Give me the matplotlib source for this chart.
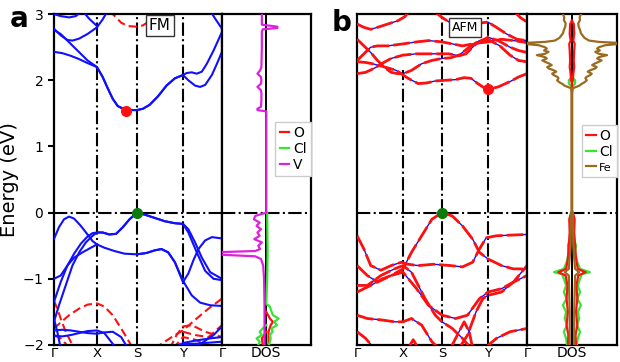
import numpy as np
import matplotlib.pyplot as plt
from matplotlib.lines import Line2D

# ---- k-path positions ----
kticks_a = [0.0, 0.256, 0.494, 0.768, 1.0]
kticks_b = [0.0, 0.27, 0.50, 0.77, 1.0]
klabels = ['Γ', 'X', 'S', 'Y', 'Γ']
eticks = [-2, -1, 0, 1, 2, 3]
elabels = ['$-2$', '$-1$', '$0$', '$1$', '$2$', '$3$']

# ---- panel a (FM): spin-up bands (blue) ----
a_up = [
    [(0, 2.43), (0.05, 2.41), (0.1, 2.37), (0.15, 2.32), (0.2, 2.26), (0.256, 2.2), (0.29, 2.05),
     (0.32, 1.88), (0.35, 1.72), (0.38, 1.61), (0.42, 1.56), (0.46, 1.55), (0.494, 1.55), (0.53, 1.57),
     (0.57, 1.63), (0.62, 1.76), (0.67, 1.92), (0.72, 2.03), (0.768, 2.08), (0.8, 2.0), (0.84, 1.92),
     (0.87, 1.9), (0.9, 1.93), (0.94, 2.08), (0.97, 2.25), (1.0, 2.43)],
    [(0, 2.76), (0.04, 2.7), (0.08, 2.6), (0.12, 2.5), (0.16, 2.4), (0.2, 2.3), (0.256, 2.2), (0.29, 2.05),
     (0.32, 1.88), (0.35, 1.72), (0.38, 1.61), (0.42, 1.56), (0.46, 1.55), (0.494, 1.55), (0.53, 1.57),
     (0.57, 1.63), (0.62, 1.76), (0.67, 1.92), (0.72, 2.03), (0.768, 2.08), (0.79, 2.11), (0.82, 2.12),
     (0.85, 2.1), (0.88, 2.13), (0.91, 2.25), (0.95, 2.45), (1.0, 2.73)],
    [(0, 2.78), (0.04, 2.68), (0.08, 2.61), (0.11, 2.6), (0.15, 2.63), (0.2, 2.7), (0.256, 2.8),
     (0.29, 2.92), (0.32, 3.05)],
    [(0.17, 3.05), (0.21, 2.93), (0.256, 2.82)],
    [(0, 3.0), (0.04, 2.97), (0.09, 2.95), (0.13, 2.97), (0.17, 3.05)],
    [(0.93, 3.05), (0.96, 2.93), (1.0, 2.78)],
    [(0, -0.4), (0.03, -0.22), (0.06, -0.1), (0.09, -0.06), (0.12, -0.09), (0.16, -0.2), (0.2, -0.33),
     (0.23, -0.43), (0.256, -0.48), (0.3, -0.53), (0.36, -0.58), (0.42, -0.62), (0.494, -0.63),
     (0.55, -0.61), (0.6, -0.57), (0.64, -0.55), (0.68, -0.6), (0.72, -0.75), (0.768, -1.03),
     (0.82, -1.25), (0.87, -1.36), (0.93, -1.4), (1.0, -1.41)],
    [(0, -1.0), (0.04, -0.95), (0.08, -0.8), (0.12, -0.62), (0.16, -0.47), (0.2, -0.36), (0.23, -0.31),
     (0.256, -0.3), (0.29, -0.3), (0.33, -0.33), (0.37, -0.32), (0.41, -0.22), (0.45, -0.1), (0.494, 0.0),
     (0.54, -0.03), (0.6, -0.08), (0.66, -0.13), (0.72, -0.16), (0.768, -0.17), (0.8, -0.25),
     (0.84, -0.45), (0.88, -0.68), (0.93, -0.9), (1.0, -1.0)],
    [(0, -1.65), (0.03, -1.4), (0.07, -1.1), (0.11, -0.8), (0.15, -0.6), (0.19, -0.45), (0.23, -0.35),
     (0.256, -0.3), (0.29, -0.3), (0.33, -0.33), (0.37, -0.32), (0.41, -0.22), (0.45, -0.1),
     (0.494, 0.0), (0.54, -0.03), (0.6, -0.08), (0.66, -0.13), (0.72, -0.16), (0.768, -0.17),
     (0.8, -0.3), (0.85, -0.6), (0.9, -0.88), (0.95, -1.0), (1.0, -1.02)],
    [(0.494, -0.63), (0.55, -0.61), (0.6, -0.57), (0.64, -0.55), (0.68, -0.6), (0.72, -0.75),
     (0.768, -1.05), (0.8, -0.92), (0.83, -0.72), (0.86, -0.55), (0.9, -0.42), (0.94, -0.37), (1.0, -0.39)],
    [(0, -1.35), (0.04, -1.05), (0.08, -0.8), (0.12, -0.68), (0.17, -0.6), (0.22, -0.53), (0.256, -0.48)],
    [(0, -1.78), (0.05, -1.77), (0.1, -1.78), (0.15, -1.8), (0.2, -1.82), (0.256, -1.83), (0.3, -1.81),
     (0.35, -1.8), (0.4, -1.88), (0.44, -2.05)],
    [(0, -1.86), (0.05, -1.87), (0.1, -1.85), (0.15, -1.82), (0.2, -1.79), (0.256, -1.78), (0.3, -1.82),
     (0.34, -1.95), (0.37, -2.05)],
    [(0, -1.6), (0.02, -1.8), (0.04, -2.05)],
    [(0.72, -2.05), (0.768, -1.97), (0.85, -1.93), (0.93, -1.9), (1.0, -1.88)],
    [(0.8, -2.05), (0.88, -1.97), (0.95, -1.85), (1.0, -1.72)],
    [(0.75, -1.99), (0.85, -1.98), (1.0, -1.95)],
]

# ---- panel a (FM): spin-down bands (red dashed) ----
a_dn = [
    [(0.33, 3.05), (0.37, 2.95), (0.4, 2.87), (0.44, 2.82), (0.49, 2.81), (0.53, 2.83), (0.57, 2.9), (0.6, 3.05)],
    [(0, -1.75), (0.04, -1.66), (0.09, -1.55), (0.15, -1.45), (0.2, -1.39), (0.256, -1.37), (0.3, -1.42),
     (0.35, -1.55), (0.4, -1.75), (0.44, -1.92), (0.47, -2.05)],
    [(0, -1.33), (0.02, -1.45), (0.04, -1.6), (0.07, -1.8), (0.1, -1.95), (0.12, -2.05)],
    [(0, -1.85), (0.04, -1.9), (0.07, -1.98), (0.09, -2.05)],
    [(0.6, -2.05), (0.66, -1.95), (0.72, -1.85), (0.768, -1.78), (0.84, -1.62), (0.92, -1.45), (1.0, -1.3)],
    [(0.69, -2.05), (0.73, -1.85), (0.768, -1.72), (0.82, -1.7), (0.9, -1.8), (1.0, -1.88)],
    [(0.768, -1.8), (0.84, -1.85), (0.92, -1.88), (1.0, -1.7)],
    [(0.71, -2.05), (0.768, -1.88), (0.84, -1.92), (0.95, -2.05)],
]

# ---- panel b (AFM): bands (both spins overlap) ----
b_bands = [
    [(0, 2.28), (0.05, 2.27), (0.09, 2.25), (0.15, 2.21), (0.23, 2.15), (0.3, 2.03), (0.36, 1.95),
     (0.41, 1.96), (0.46, 1.99), (0.52, 2.0), (0.58, 2.01), (0.63, 2.04), (0.67, 2.03), (0.71, 1.95),
     (0.74, 1.9), (0.77, 1.86), (0.83, 1.9), (0.9, 1.98), (0.95, 2.05), (1.0, 2.1)],
    [(0, 2.1), (0.05, 2.12), (0.1, 2.18), (0.15, 2.26), (0.2, 2.33), (0.27, 2.38), (0.35, 2.4), (0.45, 2.4),
     (0.54, 2.4), (0.6, 2.37), (0.64, 2.4), (0.7, 2.55), (0.77, 2.65), (0.83, 2.6), (0.9, 2.5),
     (0.95, 2.45), (1.0, 2.42)],
    [(0, 2.62), (0.04, 2.52), (0.08, 2.42), (0.12, 2.3), (0.16, 2.2), (0.2, 2.12), (0.24, 2.1), (0.27, 2.1),
     (0.32, 2.15), (0.38, 2.25), (0.44, 2.3), (0.5, 2.33), (0.55, 2.34), (0.6, 2.38), (0.66, 2.5),
     (0.72, 2.6), (0.77, 2.62), (0.84, 2.52), (0.9, 2.38), (0.95, 2.3), (1.0, 2.28)],
    [(0, 2.3), (0.04, 2.4), (0.08, 2.5), (0.12, 2.52), (0.18, 2.52), (0.27, 2.55), (0.35, 2.58), (0.42, 2.6),
     (0.5, 2.58), (0.56, 2.55), (0.62, 2.52), (0.7, 2.56), (0.77, 2.58), (0.85, 2.62), (0.92, 2.6), (1.0, 2.57)],
    [(0, 2.85), (0.04, 2.8), (0.08, 2.77), (0.12, 2.8), (0.18, 2.85), (0.24, 2.9), (0.28, 2.96), (0.31, 3.05)],
    [(0.45, 3.05), (0.5, 2.95), (0.56, 2.85), (0.62, 2.82), (0.68, 2.84), (0.74, 2.87), (0.77, 2.88),
     (0.82, 2.8), (0.88, 2.7), (0.94, 2.62), (1.0, 2.6)],
    [(0.92, 3.05), (0.96, 2.95), (1.0, 2.88)],
    [(0, -0.35), (0.04, -0.55), (0.08, -0.8), (0.14, -0.87), (0.2, -0.8), (0.26, -0.75), (0.3, -0.78),
     (0.36, -0.8), (0.45, -0.78), (0.55, -0.8), (0.62, -0.82), (0.68, -0.75), (0.72, -0.55), (0.76, -0.38),
     (0.82, -0.35), (0.9, -0.34), (1.0, -0.33)],
    [(0, -1.2), (0.08, -1.1), (0.15, -1.0), (0.2, -0.95), (0.27, -0.85), (0.32, -0.6), (0.38, -0.35),
     (0.44, -0.1), (0.5, 0.0), (0.56, -0.05), (0.62, -0.2), (0.68, -0.4), (0.72, -0.6), (0.77, -0.7),
     (0.85, -0.8), (0.92, -0.85), (1.0, -0.85)],
    [(0, -0.8), (0.06, -0.95), (0.12, -1.05), (0.2, -0.95), (0.27, -0.9), (0.35, -1.15), (0.42, -1.4),
     (0.5, -1.55), (0.58, -1.6), (0.65, -1.55), (0.72, -1.3), (0.77, -1.2), (0.85, -1.15), (0.92, -1.05),
     (1.0, -0.95)],
    [(0, -1.1), (0.06, -1.1), (0.14, -0.95), (0.22, -0.85), (0.27, -0.8), (0.32, -0.9), (0.4, -1.3),
     (0.46, -1.55), (0.5, -1.65), (0.56, -1.75), (0.62, -1.9), (0.67, -2.05)],
    [(0, -1.55), (0.06, -1.6), (0.14, -1.62), (0.22, -1.65), (0.27, -1.65), (0.32, -1.6), (0.38, -1.7),
     (0.44, -1.95), (0.48, -2.05)],
    [(0, -1.8), (0.05, -1.9), (0.1, -2.05)],
    [(0.6, -2.05), (0.65, -1.85), (0.7, -1.5), (0.74, -1.3), (0.77, -1.25), (0.85, -1.2), (0.92, -1.05),
     (1.0, -0.8)],
    [(0.75, -2.05), (0.82, -1.9), (0.9, -1.8), (1.0, -1.75)],
    [(0.3, -2.05), (0.33, -1.92), (0.36, -2.05)],
    [(0.55, -2.05), (0.6, -1.8), (0.63, -1.65), (0.66, -1.8), (0.68, -2.05)],
]

# ---- DOS, panel a (negative = spin up, drawn to the left) ----
dos_a_V = [(3.0, -0.1), (2.9, -0.1), (2.84, -0.1), (2.81, 0.25), (2.79, 0.25), (2.77, -0.08), (2.74, -0.1),
           (2.5, -0.1), (2.2, -0.11), (2.15, -0.14), (2.1, -0.2), (2.05, -0.12), (2.0, -0.11), (1.95, -0.12),
           (1.9, -0.2), (1.85, -0.12), (1.8, -0.11), (1.7, -0.11), (1.6, -0.12), (1.57, -0.2), (1.55, -0.2),
           (1.53, 0.0), (0.02, 0.0), (0.0, 0.0), (-0.02, -0.1), (-0.05, -0.25), (-0.1, -0.28), (-0.15, -0.15),
           (-0.2, -0.22), (-0.25, -0.12), (-0.3, -0.2), (-0.35, -0.15), (-0.4, -0.27), (-0.45, -0.1),
           (-0.5, -0.18), (-0.55, -0.14), (-0.58, -0.25), (-0.6, -1.2), (-0.63, -1.2), (-0.66, -0.25),
           (-0.7, -0.12), (-0.8, -0.07), (-1.0, -0.05), (-1.4, -0.04), (-1.6, -0.04), (-2.0, -0.04)]
dos_a_Cl_dn = [(0.0, 0.02), (-0.6, 0.03), (-1.0, 0.02), (-1.38, 0.0), (-1.42, 0.08), (-1.5, 0.12),
               (-1.55, 0.15), (-1.6, 0.28), (-1.65, 0.18), (-1.7, 0.24), (-1.75, 0.12), (-1.8, 0.14),
               (-1.85, 0.08), (-1.9, 0.1), (-2.0, 0.06)]
dos_a_Cl_up = [(-1.7, 0.0), (-1.75, -0.08), (-1.8, -0.15), (-1.85, -0.1), (-1.9, -0.22), (-1.95, -0.15),
               (-2.0, -0.18)]
dos_a_O_dn = [(-1.5, 0.0), (-1.6, 0.08), (-1.65, 0.15), (-1.7, 0.1), (-1.8, 0.05), (-2.0, 0.05)]
dos_a_O_up = [(-1.8, 0.0), (-1.9, -0.1), (-2.0, -0.08)]

# ---- DOS, panel b (symmetric spins) ----
dos_b_Fe = [(3.0, 0.2), (2.95, 0.17), (2.91, 0.18), (2.86, 0.14), (2.81, 0.15), (2.76, 0.18), (2.71, 0.2),
            (2.64, 0.28), (2.6, 0.38), (2.58, 0.6), (2.56, 1.2), (2.53, 0.74), (2.5, 0.6), (2.48, 0.56),
            (2.45, 0.62), (2.43, 0.52), (2.4, 0.6), (2.38, 0.78), (2.35, 0.6), (2.33, 0.56), (2.3, 0.66),
            (2.28, 0.6), (2.25, 0.5), (2.23, 0.45), (2.2, 0.55), (2.18, 0.52), (2.15, 0.4), (2.13, 0.35),
            (2.1, 0.44), (2.08, 0.41), (2.05, 0.32), (2.03, 0.3), (2.0, 0.33), (1.97, 0.28), (1.94, 0.2),
            (1.92, 0.17), (1.88, 0.02), (1.8, 0.0), (0.02, 0.0), (0.0, 0.02), (-0.5, 0.03), (-0.85, 0.07),
            (-0.9, 0.16), (-0.95, 0.07), (-1.5, 0.05), (-2.0, 0.05)]
dos_b_O = [(2.9, 0.0), (2.85, 0.04), (2.7, 0.05), (2.6, 0.03), (2.55, 0.06), (2.45, 0.05), (2.3, 0.04),
           (2.2, 0.05), (2.1, 0.03), (2.0, 0.02), (1.95, 0.0), (0.02, 0.0), (0.0, 0.02), (-0.1, 0.06),
           (-0.3, 0.05), (-0.5, 0.07), (-0.7, 0.09), (-0.85, 0.13), (-0.9, 0.3), (-0.95, 0.14), (-1.1, 0.1),
           (-1.3, 0.12), (-1.5, 0.09), (-1.7, 0.12), (-1.85, 0.08), (-2.0, 0.09)]
dos_b_Cl = [(2.05, 0.0), (2.0, 0.07), (1.95, 0.07), (1.9, 0.0), (0.0, 0.0), (-0.1, 0.03), (-0.4, 0.05),
            (-0.5, 0.09), (-0.6, 0.07), (-0.75, 0.12), (-0.85, 0.18), (-0.9, 0.4), (-0.93, 0.22), (-1.0, 0.18),
            (-1.1, 0.13), (-1.2, 0.18), (-1.3, 0.12), (-1.4, 0.2), (-1.5, 0.13), (-1.6, 0.16), (-1.7, 0.11),
            (-1.8, 0.18), (-1.9, 0.13), (-2.0, 0.11)]

# band extrema markers (k, E)
cbm_a, vbm_a = (0.43, 1.53), (0.494, 0.0)
cbm_b, vbm_b = (0.77, 1.87), (0.50, 0.0)

BLUE = '#1010ff'
RED = '#ff1010'
GREEN = '#33e633'
MAGENTA = '#dd22dd'
BROWN = '#9a6b1f'

plt.rcParams['font.family'] = 'DejaVu Sans'

fig = plt.figure(figsize=(6.2, 3.62), dpi=100)
bot, hgt = 0.047, 0.914
ax_a = fig.add_axes([0.087, bot, 0.271, hgt])
dos_a = fig.add_axes([0.358, bot, 0.143, hgt])
ax_b = fig.add_axes([0.576, bot, 0.274, hgt])
dos_b = fig.add_axes([0.850, bot, 0.145, hgt])


def xy(pts):
    arr = np.array(pts)
    return arr[:, 0], arr[:, 1]


def style_band_ax(ax, kt, show_y):
    ax.set_xlim(0, 1)
    ax.set_ylim(-2, 3)
    ax.set_xticks(kt)
    ax.set_xticklabels(klabels, fontsize=9.5)
    ax.tick_params(axis='x', length=0, pad=1.5)
    if show_y:
        ax.set_yticks(eticks)
        ax.set_yticklabels(elabels, fontsize=10)
        ax.tick_params(axis='y', direction='out', length=4, width=1.5)
    else:
        ax.set_yticks([])
    for s in ax.spines.values():
        s.set_linewidth(1.6)
    ax.axhline(0, color='k', ls='-.', lw=1.5, zorder=1)


def style_dos_ax(ax):
    ax.set_xlim(-1, 1)
    ax.set_ylim(-2, 3)
    ax.set_yticks([])
    ax.set_xticks([0])
    ax.set_xticklabels(['DOS'], fontsize=10)
    ax.tick_params(axis='x', length=0, pad=1)
    for s in ax.spines.values():
        s.set_linewidth(1.6)
    ax.axvline(0, color='k', lw=1.4, zorder=1)
    ax.axhline(0, color='k', ls='-.', lw=1.5, zorder=1)


# ---------- panel a ----------
for kx in kticks_a[1:4]:
    ax_a.axvline(kx, color='k', ls='-.', lw=1.5, zorder=1)
for band in a_dn:
    k, e = xy(band)
    ax_a.plot(k, e, color=RED, lw=1.5, ls=(0, (4, 2)), zorder=2)
for band in a_up:
    k, e = xy(band)
    ax_a.plot(k, e, color=BLUE, lw=1.5, zorder=3)
ax_a.plot(*cbm_a, 'o', color=RED, ms=7, zorder=5)
ax_a.plot(*vbm_a, 'o', color='#0a7a0a', ms=7, zorder=5)
style_band_ax(ax_a, kticks_a, True)
ax_a.set_ylabel('Energy (eV)', fontsize=14, labelpad=2)
ax_a.text(0.63, 2.83, 'FM', ha='center', va='center', fontsize=11, zorder=6,
          bbox=dict(boxstyle='square,pad=0.2', fc='white', ec='#333333', lw=1))

style_dos_ax(dos_a)
for pts, c in [(dos_a_O_dn, RED), (dos_a_O_up, RED), (dos_a_Cl_dn, GREEN), (dos_a_Cl_up, GREEN),
               (dos_a_V, MAGENTA)]:
    e, v = np.array(pts)[:, 0], np.array(pts)[:, 1]
    dos_a.plot(v, e, color=c, lw=1.6, zorder=3)
handles_a = [Line2D([], [], color=c, lw=1.6) for c in (RED, GREEN, MAGENTA)]
leg_a = dos_a.legend(handles_a, ['O', 'Cl', 'V'], loc='upper right', bbox_to_anchor=(1.0, 0.675),
                     borderaxespad=0, fontsize=10, handlelength=0.7, handletextpad=0.25,
                     labelspacing=0.15, borderpad=0.3, framealpha=1, fancybox=False)
leg_a.get_frame().set_edgecolor('#cccccc')

# ---------- panel b ----------
ax_b.axvline(kticks_b[1], ymax=0.83, color='k', ls='-.', lw=1.5, zorder=1)
for kx in kticks_b[2:4]:
    ax_b.axvline(kx, color='k', ls='-.', lw=1.5, zorder=1)
for band in b_bands:
    k, e = xy(band)
    ax_b.plot(k, e, color=BLUE, lw=1.0, zorder=2)
    ax_b.plot(k, e, color=RED, lw=2.0, ls=(0, (6, 1.5)), zorder=3)
ax_b.plot(*cbm_b, 'o', color=RED, ms=7, zorder=5)
ax_b.plot(*vbm_b, 'o', color='#0a7a0a', ms=7, zorder=5)
style_band_ax(ax_b, kticks_b, False)
ax_b.text(0.635, 2.8, 'AFM', ha='center', va='center', fontsize=9, zorder=6,
          bbox=dict(boxstyle='square,pad=0.25', fc='white', ec='#333333', lw=1))

style_dos_ax(dos_b)
for pts, c in [(dos_b_Cl, GREEN), (dos_b_O, RED), (dos_b_Fe, BROWN)]:
    e, v = np.array(pts)[:, 0], np.array(pts)[:, 1]
    dos_b.plot(v, e, color=c, lw=1.6, zorder=3)
    dos_b.plot(-v, e, color=c, lw=1.6, zorder=3)
handles_b = [Line2D([], [], color=c, lw=1.6) for c in (RED, GREEN, BROWN)]
leg_b = dos_b.legend(handles_b, ['O', 'Cl', 'Fe'], loc='upper right', bbox_to_anchor=(1.0, 0.665),
                     borderaxespad=0, fontsize=10, handlelength=0.7, handletextpad=0.25,
                     labelspacing=0.15, borderpad=0.3, framealpha=1, fancybox=False)
leg_b.get_frame().set_edgecolor('#cccccc')
leg_b.get_texts()[2].set_fontsize(8)

fig.text(0.015, 0.985, 'a', fontsize=20, fontweight='bold', va='top')
fig.text(0.535, 0.975, 'b', fontsize=20, fontweight='bold', va='top')

fig.savefig('out.png', dpi=100)
